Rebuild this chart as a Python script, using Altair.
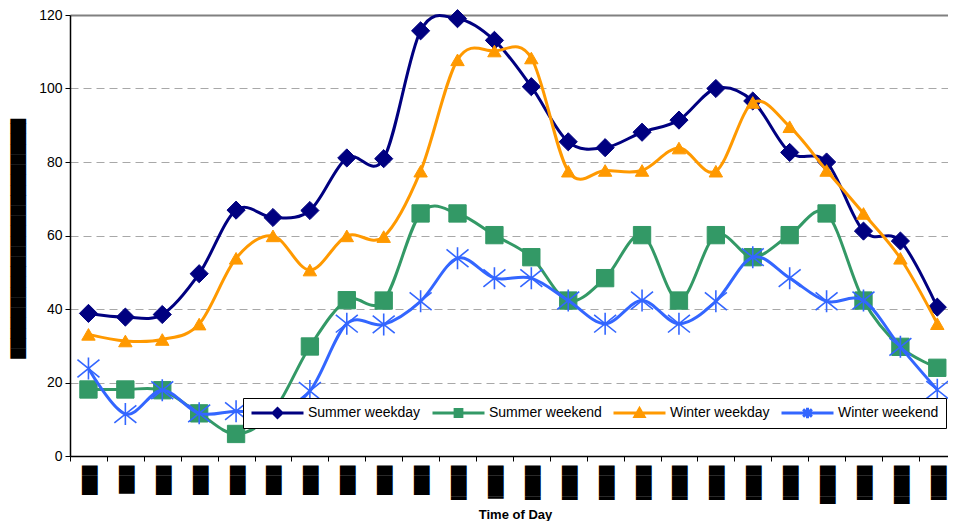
import json
import altair as alt
import pandas as pd

# ---------------- data ----------------
HOURS = list(range(24))
SERIES = ["Summer weekday", "Summer weekend", "Winter weekday", "Winter weekend"]
SUMMER_WEEKDAY = [38.8, 37.8, 38.5, 49.6, 66.9, 64.9, 66.8, 81.1, 80.9, 115.7, 119.0, 113.1,
                  100.5, 85.5, 83.9, 88.1, 91.4, 100.0, 96.6, 82.6, 80.0, 61.2, 58.5, 40.5]
SUMMER_WEEKEND = [18.1, 18.1, 17.9, 11.6, 6.0, 12.0, 29.8, 42.4, 42.3, 66.0, 66.0, 60.1,
                  54.1, 42.3, 48.4, 60.1, 42.3, 60.1, 54.1, 60.1, 66.0, 42.3, 29.7, 24.0]
WINTER_WEEKDAY = [33.1, 31.3, 31.7, 35.9, 53.8, 59.9, 50.6, 59.9, 59.7, 77.5, 107.8, 110.2,
                  108.3, 77.5, 77.7, 77.7, 83.8, 77.5, 96.2, 89.6, 77.7, 66.0, 53.8, 36.0]
WINTER_WEEKEND = [23.8, 11.4, 17.9, 11.6, 12.2, 12.0, 17.7, 36.0, 35.8, 42.1, 53.8, 48.4,
                  48.4, 42.3, 36.0, 42.3, 36.0, 42.1, 54.1, 48.4, 42.1, 42.3, 29.7, 18.0]
VALUES = [SUMMER_WEEKDAY, SUMMER_WEEKEND, WINTER_WEEKDAY, WINTER_WEEKEND]

# tick labels and axis title (redacted in the reference, shown as solid blocks)
HOUR_LABELS = ["██▉", "██▊", "██▉", "██▉", "██▉", "██▉", "██▉", "██▉",
               "██▉", "██▉", "███▍", "███▎", "███▍", "███▍", "███▍", "███▍",
               "███▍", "███▍", "███▍", "███▍", "███▊", "███▍", "███▊", "███▍"]
Y_TITLE = "███████████████████████▌"
X_TITLE = "Time of Day"
Y_TICKS = [0, 20, 40, 60, 80, 100, 120]

# ---------------- styles ----------------
COLORS = ["#000080", "#339966", "#FF9900", "#3366FF"]
ASTERISK = "M0,-1L0,1M-1,-0.8L1,0.8M-1,0.8L1,-0.8"
MARKERS = ["diamond", "square", "triangle-up", ASTERISK]
MARKER_SIZES = [330, 300, 180, 484]
MARKER_STROKE = [1, 1, 1, 1.6]
LEGEND_PATHS = [
    "M-1,0L1,0M0,-0.17L0.17,0L0,0.17L-0.17,0Z",
    "M-1,0L1,0M-0.13,-0.13L0.13,-0.13L0.13,0.13L-0.13,0.13Z",
    "M-1,0L1,0M0,-0.16L0.17,0.13L-0.17,0.13Z",
    "M-1,0L1,0M0,-0.2L0,0.2M-0.17,-0.14L0.17,0.14M-0.17,0.14L0.17,-0.14",
]
BLOCK_FONT_SIZE = 13.29  # gives a whole-pixel advance for the block glyphs
PLOT_W, PLOT_H = 878, 441
X_MAX = 23.29
STEP = PLOT_W / (X_MAX + 0.5)

rows = []
for s, vals in zip(SERIES, VALUES):
    for h, v in zip(HOURS, vals):
        rows.append({"series": s, "hour": h, "value": v})
df = pd.DataFrame(rows)

label_expr = json.dumps(HOUR_LABELS, ensure_ascii=False) + "[round(datum.value + 0.5)]"

x_enc = alt.X(
    "hour:Q",
    scale=alt.Scale(domain=[-0.5, X_MAX], nice=False, zero=False),
    axis=alt.Axis(
        title=X_TITLE,
        values=[h - 0.5 for h in HOURS],
        labelExpr=label_expr,
        labelAngle=90,
        labelOffset=STEP / 2,
        labelPadding=4,
        labelFont="DejaVu Sans",
        labelFontSize=BLOCK_FONT_SIZE,
        labelColor="black",
        labelOverlap=False,
        labelFlush=False,
        labelBound=False,
        tickSize=5,
        tickColor="black",
        domainColor="black",
        domainWidth=1.5,
        grid=False,
        titleFont="Liberation Sans",
        titleFontSize=13,
        titleFontWeight="bold",
        titleColor="black",
        titlePadding=3,
        titleX=445,
    ),
)

y_enc = alt.Y(
    "value:Q",
    scale=alt.Scale(domain=[0, 120], nice=False, zero=True),
    axis=alt.Axis(
        title=Y_TITLE,
        values=Y_TICKS,
        labelFont="Liberation Sans",
        labelFontSize=14,
        labelColor="black",
        labelPadding=3,
        tickSize=5,
        tickColor="black",
        domainColor="black",
        domainWidth=1.5,
        grid=True,
        gridDash={"condition": {"test": "datum.value >= 120", "value": []}, "value": [8, 5]},
        gridColor={"condition": {"test": "datum.value >= 120", "value": "#808080"}, "value": "#a8a8a8"},
        gridWidth={"condition": {"test": "datum.value >= 120", "value": 2}, "value": 1},
        titleFont="DejaVu Sans",
        titleFontSize=BLOCK_FONT_SIZE,
        titleFontWeight="normal",
        titleColor="black",
        titlePadding=13.5,
    ),
)

base = alt.Chart(df)
layers = []
for s, c, m, sz, sw in zip(SERIES, COLORS, MARKERS, MARKER_SIZES, MARKER_STROKE):
    sub = base.transform_filter(alt.datum.series == s)
    layers.append(
        sub.mark_line(interpolate="cardinal", strokeWidth=3, color=c).encode(x=x_enc, y=y_enc)
    )
    layers.append(
        sub.mark_point(filled=True, opacity=1, shape=m, size=sz, fill=c, stroke=c,
                       strokeWidth=sw).encode(x=x_enc, y=y_enc)
    )

legend = alt.Legend(
    title=None,
    orient="none",
    legendX=173,
    legendY=383,
    direction="horizontal",
    fillColor="white",
    strokeColor="black",
    padding=7,
    labelFont="Liberation Sans",
    labelFontSize=14,
    labelColor="black",
    labelOffset=3,
    symbolSize=2704,
    symbolStrokeWidth=3,
    columnPadding=10,
    clipHeight=16,
)

legend_layer = base.transform_filter("false").mark_point(
    filled=True, opacity=1, size=2704, strokeWidth=3
).encode(
    x=x_enc,
    y=y_enc,
    shape=alt.Shape("series:N", scale=alt.Scale(domain=SERIES, range=LEGEND_PATHS), legend=legend),
    fill=alt.Fill("series:N", scale=alt.Scale(domain=SERIES, range=COLORS), legend=legend),
    stroke=alt.Stroke("series:N", scale=alt.Scale(domain=SERIES, range=COLORS), legend=legend),
)
layers.append(legend_layer)

chart = alt.layer(*layers).properties(
    width=PLOT_W,
    height=PLOT_H,
    autosize=alt.AutoSizeParams(type="none"),
    padding={"left": 62, "top": 7, "right": 0, "bottom": 65},
    background="white",
).configure_view(stroke=None)

chart.save("out.html", embed_options={"renderer": "svg", "actions": False})
